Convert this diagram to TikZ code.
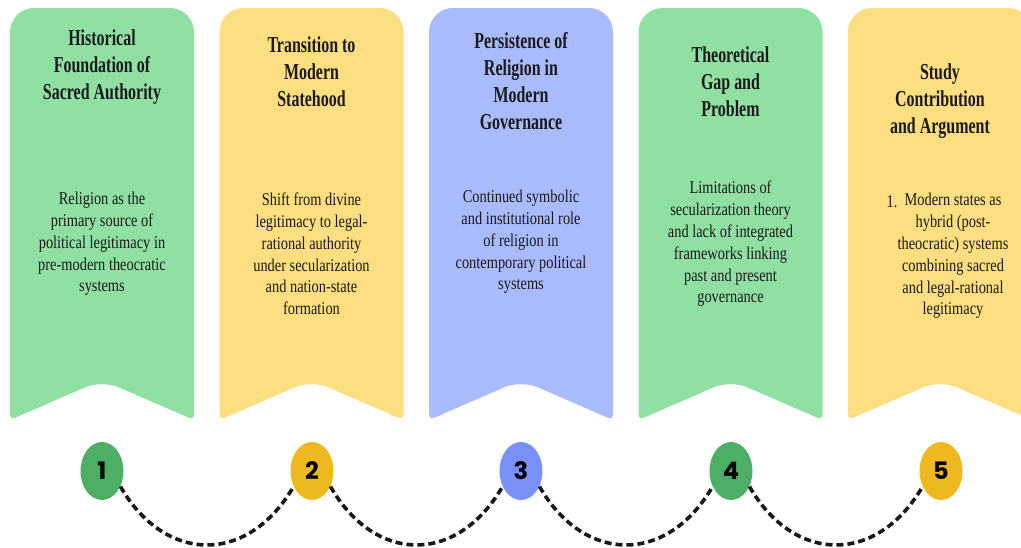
\documentclass[tikz,border=0pt]{standalone}
\usepackage{fontspec}
\usetikzlibrary{shapes.geometric,calc}
\newfontfamily\ttlfont[FakeStretch=0.70]{Liberation Serif}
\newfontfamily\bdyfont[FakeStretch=0.80]{Liberation Serif}
\newfontfamily\numfont{Poppins}
\definecolor{pgreen}{HTML}{90E0A4}
\definecolor{pyellow}{HTML}{FDDE80}
\definecolor{pblue}{HTML}{AABBFF}
\definecolor{cgreen}{HTML}{4DAE66}
\definecolor{cyellow}{HTML}{EDB91F}
\definecolor{cblue}{HTML}{7890F8}
\definecolor{txt}{HTML}{1A1A1A}
\tikzset{
  ttl/.style={align=center, text=txt, inner sep=0pt, font={\ttlfont\bfseries\fontsize{22.8}{27}\selectfont}},
  bdy/.style={align=center, text=txt, inner sep=0pt, font={\bdyfont\fontsize{18}{21.8}\selectfont}},
  numc/.style={ellipse, minimum width=43pt, minimum height=58pt, inner sep=0pt, text=black, font={\numfont\bfseries\fontsize{24}{24}\selectfont}},
  conn/.style={line width=3.6pt, dash pattern=on 7pt off 4pt, black!90},
}
\newcommand{\panel}[2]{% #1 = left x, #2 = colour
  \fill[#2] (#1,200) [rounded corners=24pt] -- (#1,8) -- ({#1+184},8) -- ({#1+184},200)
    [rounded corners=5pt] -- ({#1+184},420) -- ({#1+138},400)
    [rounded corners=18pt] -- ({#1+92},380) -- ({#1+46},400)
    [rounded corners=5pt] -- (#1,420) -- cycle;
}
\begin{document}
\begin{tikzpicture}[x=1pt,y=-1pt]
\useasboundingbox (0,0) rectangle (1021,547);
\clip (0,0) rectangle (1021,547);
\fill[white] (0,0) rectangle (1021,547);
\panel{10}{pgreen}
\panel{219.5}{pyellow}
\panel{429}{pblue}
\panel{638.5}{pgreen}
\panel{848}{pyellow}

\node[ttl] (t1) at (102,67.5) {Historical\\Foundation of\\Sacred Authority};
\node[ttl] (t2) at (311.5,72) {Transition to\\Modern\\Statehood};
\node[ttl] (t3) at (521,81) {Persistence of\\Religion in\\Modern\\Governance};
\node[ttl] (t4) at (730.5,81.5) {Theoretical\\Gap and\\Problem};
\node[ttl] (t5) at (940,101.5) {Study\\Contribution\\and Argument};

\node[bdy] (b1) at (102,244) {Religion as the\\primary source of\\political legitimacy in\\pre-modern theocratic\\systems};
\node[bdy] (b2) at (311.5,254) {Shift from divine\\legitimacy to legal-\\rational authority\\under secularization\\and nation-state\\formation};
\node[bdy] (b3) at (521,242) {Continued symbolic\\and institutional role\\of religion in\\contemporary political\\systems};
\node[bdy] (b4) at (730.5,244) {Limitations of\\secularization theory\\and lack of integrated\\frameworks linking\\past and present\\governance};
\node[bdy] (b5) at (953,256) {Modern states as\\hybrid (post-\\theocratic) systems\\combining sacred\\and legal-rational\\legitimacy};
\node[bdy, anchor=base] (n5) at (892,256-2.5*21.8+6) {1.};

\node[numc, fill=cgreen] (c1) at (102,471) {1};
\node[numc, fill=cyellow] (c2) at (312,471) {2};
\node[numc, fill=cblue] (c3) at (521,471) {3};
\node[numc, fill=cgreen] (c4) at (731,471) {4};
\node[numc, fill=cyellow] (c5) at (941,471) {5};

\draw[conn] (c1.-40) .. controls +(45,78) and +(-45,78) .. (c2.220);
\draw[conn] (c2.-40) .. controls +(45,78) and +(-45,78) .. (c3.220);
\draw[conn] (c3.-40) .. controls +(45,78) and +(-45,78) .. (c4.220);
\draw[conn] (c4.-40) .. controls +(45,78) and +(-45,78) .. (c5.220);
\end{tikzpicture}
\end{document}
